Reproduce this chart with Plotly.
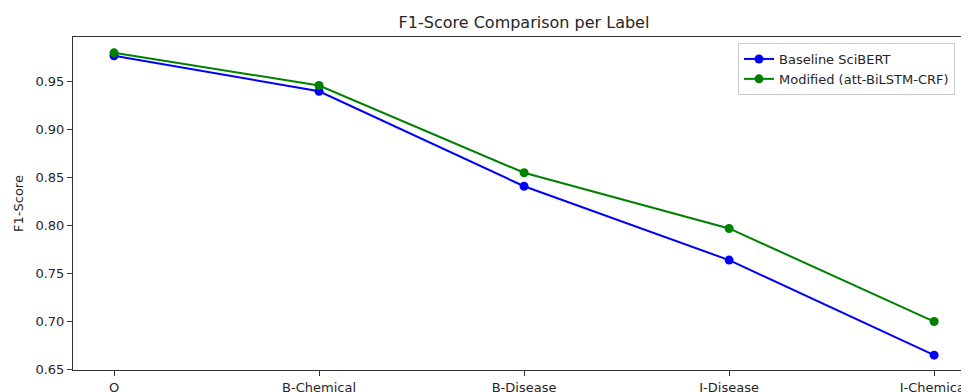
import plotly.graph_objects as go

labels = ["O", "B-Chemical", "B-Disease", "I-Disease", "I-Chemical"]
baseline = [0.977, 0.940, 0.841, 0.764, 0.665]
modified = [0.980, 0.946, 0.855, 0.797, 0.700]
yticks = [0.65, 0.70, 0.75, 0.80, 0.85, 0.90, 0.95]

TXT = "#262626"
W, H = 961, 384
L, R, T, B = 65, 0, 29, 22

fig = go.Figure()
fig.add_trace(go.Scatter(x=list(range(len(labels))), y=baseline, mode="lines+markers",
                         name="Baseline SciBERT", line=dict(color="#0000ff", width=2),
                         marker=dict(size=9, color="#0000ff")))
fig.add_trace(go.Scatter(x=list(range(len(labels))), y=modified, mode="lines+markers",
                         name="Modified (att-BiLSTM-CRF)", line=dict(color="#008000", width=2),
                         marker=dict(size=9, color="#008000")))

axis_common = dict(showgrid=False, zeroline=False, showline=True, linecolor="#333333", linewidth=1,
                   ticks="outside", ticklen=5, tickcolor="#333333", automargin=False,
                   tickfont=dict(family="DejaVu Sans", size=13, color=TXT))

fig.update_layout(
    width=W, height=H,
    margin=dict(l=L, r=R, t=T, b=B),
    paper_bgcolor="white", plot_bgcolor="white",
    title=dict(text="F1-Score Comparison per Label", x=516 / W, xanchor="center",
               y=1 - 14 / H, yanchor="middle",
               font=dict(family="DejaVu Sans", size=16, color=TXT)),
    xaxis=dict(range=[-0.2, 4.17], tickvals=list(range(len(labels))), ticktext=labels,
               mirror=True, **axis_common),
    yaxis=dict(range=[0.6495, 0.9965], tickvals=yticks, ticktext=[f"{v:.2f}" for v in yticks],
               title=dict(text="F1-Score", font=dict(family="DejaVu Sans", size=13, color=TXT), standoff=8),
               **axis_common),
    legend=dict(x=(730 - L) / (W - L - R), y=1 - 6 / (H - T - B), xanchor="left", yanchor="top",
                bgcolor="white", bordercolor="#cccccc", borderwidth=1, itemwidth=30,
                font=dict(family="DejaVu Sans", size=13, color=TXT)),
    showlegend=True,
)

fig.write_html("out.html")
